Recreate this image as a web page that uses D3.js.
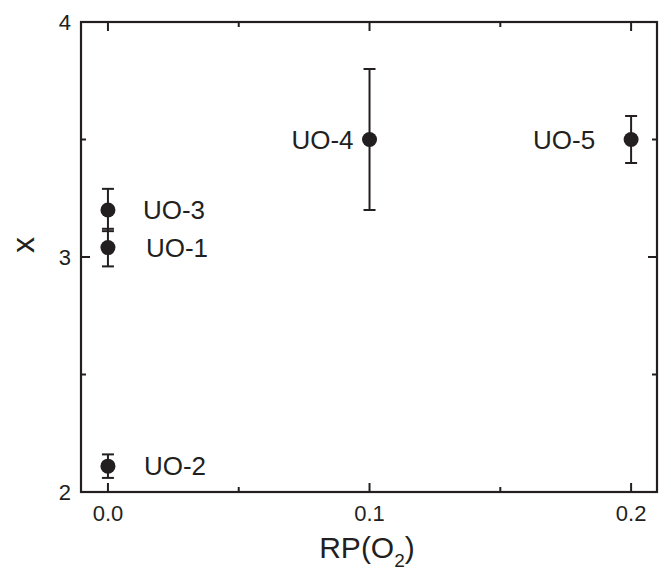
<!DOCTYPE html>
<html><head><meta charset="utf-8">
<script src="https://cdn.jsdelivr.net/npm/d3@7"></script>
<style>
body{margin:0;background:#fff;}
text{font-family:"Liberation Sans",Arial,Helvetica,sans-serif;fill:#231f20;}
</style></head>
<body><svg id="c" width="671" height="575"></svg>
<script>
const labels = ["UO-1","UO-2","UO-3","UO-4","UO-5"];
const rpO2   = [0.0, 0.0, 0.0, 0.1, 0.2];
const xVals  = [3.04, 2.11, 3.20, 3.50, 3.50];
const xErr   = [0.08, 0.05, 0.09, 0.30, 0.10];
const xTicks = [0.0, 0.1, 0.2];
const yTicks = [2, 3, 4];

const data = labels.map((l,i)=>({label:l, rp:rpO2[i], x:xVals[i], err:xErr[i]}));
// label placement (pixel offsets relative to point)
const labelDx = {"UO-1":38,"UO-2":36,"UO-3":35,"UO-4":-16,"UO-5":-36};

const ink = "#231f20";
const svg = d3.select("#c");
const L=81, R=657, T=22, B=492;
const xs = d3.scaleLinear().domain([-0.0103,0.2099]).range([L,R]);
const ys = d3.scaleLinear().domain([2,4]).range([B,T]);

const g = svg.append("g");
g.append("rect").attr("x",L).attr("y",T).attr("width",R-L).attr("height",B-T)
 .attr("fill","none").attr("stroke",ink).attr("stroke-width",2.2);

const xMinor=[0.05,0.15], yMinor=[2.5,3.5];
function xt(v,len){
  g.append("line").attr("x1",xs(v)).attr("x2",xs(v)).attr("y1",B).attr("y2",B-len).attr("stroke",ink).attr("stroke-width",2);
  g.append("line").attr("x1",xs(v)).attr("x2",xs(v)).attr("y1",T).attr("y2",T+len).attr("stroke",ink).attr("stroke-width",2);
}
function yt(v,len){
  g.append("line").attr("y1",ys(v)).attr("y2",ys(v)).attr("x1",L).attr("x2",L+len).attr("stroke",ink).attr("stroke-width",2);
  g.append("line").attr("y1",ys(v)).attr("y2",ys(v)).attr("x1",R).attr("x2",R-len).attr("stroke",ink).attr("stroke-width",2);
}
xTicks.forEach(v=>xt(v,9)); xMinor.forEach(v=>xt(v,5));
yTicks.forEach(v=>yt(v,9)); yMinor.forEach(v=>yt(v,5));

g.selectAll(".xl").data(xTicks).enter().append("text")
 .attr("x",d=>xs(d)).attr("y",B+29).attr("text-anchor","middle")
 .attr("font-size",22).text(d=>d3.format(".1f")(d));
g.selectAll(".yl").data(yTicks).enter().append("text")
 .attr("x",L-10).attr("y",d=>ys(d)+8).attr("text-anchor","end")
 .attr("font-size",22).text(d=>d);

const xt1 = g.append("text").attr("x",367).attr("y",558).attr("text-anchor","middle").attr("font-size",30);
xt1.append("tspan").text("RP(O");
xt1.append("tspan").attr("font-size",19).attr("dy",9).text("2");
xt1.append("tspan").attr("dy",-9).text(")");
g.append("text").attr("transform","translate(34,245) rotate(-90)")
 .attr("text-anchor","middle").attr("font-size",32).text("x");

const cap=6;
data.forEach(d=>{
  const cx=xs(d.rp), y1=ys(d.x+d.err), y2=ys(d.x-d.err);
  g.append("line").attr("x1",cx).attr("x2",cx).attr("y1",y1).attr("y2",y2).attr("stroke",ink).attr("stroke-width",2);
  [y1,y2].forEach(y=>g.append("line").attr("x1",cx-cap).attr("x2",cx+cap).attr("y1",y).attr("y2",y).attr("stroke",ink).attr("stroke-width",2));
});
g.selectAll(".pt").data(data).enter().append("circle")
 .attr("cx",d=>xs(d.rp)).attr("cy",d=>ys(d.x)).attr("r",7.5).attr("fill",ink);
g.selectAll(".pl").data(data).enter().append("text")
 .attr("x",d=>xs(d.rp)+labelDx[d.label])
 .attr("y",d=>ys(d.x)+9)
 .attr("text-anchor",d=>labelDx[d.label]<0?"end":"start")
 .attr("font-size",26).text(d=>d.label);
</script></body></html>
